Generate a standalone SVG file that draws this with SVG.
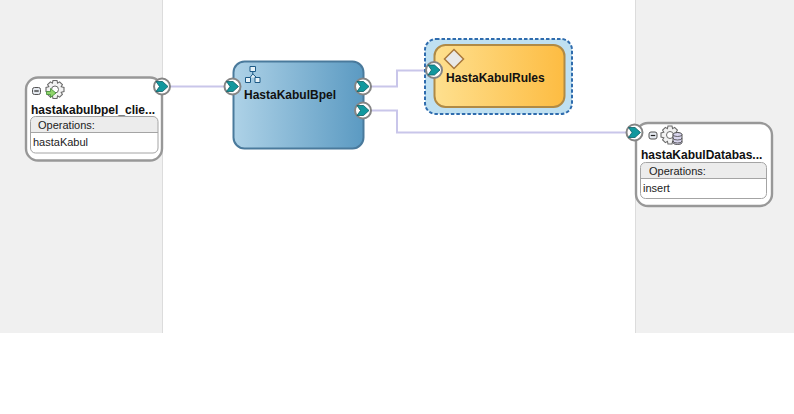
<svg xmlns="http://www.w3.org/2000/svg" xmlns:xlink="http://www.w3.org/1999/xlink" width="794" height="414" viewBox="0 0 794 414">
<style>
text{font-family:"Liberation Sans",Arial,sans-serif;fill:#111}
.t{font-size:12px;font-weight:bold}
.s{font-size:11px;fill:#222}
.card{fill:#fff;stroke:#989898;stroke-width:2.4}
.ops{fill:none;stroke:#a4a4a4;stroke-width:1}
.ophead{fill:#ececec}
.conn{fill:none;stroke:#c9c6ea;stroke-width:2}
.pr{fill:#fff;stroke:#858585;stroke-width:2}
.ch{fill:#12989e;stroke:#0d5e66;stroke-width:.8;stroke-linejoin:round}
.minus{fill:#e4e8ee;stroke:#555;stroke-width:1}
.gear{fill:#f2f2f2;stroke:#6a6a6a;stroke-width:1.1}
.net{fill:#e6f2f8;stroke:#1d5a86;stroke-width:1}
</style>
<defs>
<linearGradient id="blue" x1="0" x2="1" y1="0" y2="0"><stop offset="0" stop-color="#aed2e7"/><stop offset="1" stop-color="#5b9ac2"/></linearGradient>
<linearGradient id="gold" x1="0" x2="1" y1="0" y2="0"><stop offset="0" stop-color="#fee08f"/><stop offset="1" stop-color="#fdbc42"/></linearGradient>
<g id="port"><circle r="8" class="pr"/><path class="ch" d="M-6-5H0.500L6 0L0.500 5H-6L-2.500 0Z"/></g>
<g id="minus"><rect x="-4" y="-3.500" width="8" height="7" rx="2" class="minus"/><path d="M-2.200 0H2.200" stroke="#222" stroke-width="1.200"/></g>
<g id="gearShape"><path class="gear" d="M-2-9H2L2.600-6.400L4.600-7.600L7.400-4.800L6.200-2.800L9-2V2L6.200 2.800L7.400 4.800L4.600 7.600L2.600 6.400L2 9H-2L-2.600 6.400L-4.600 7.600L-7.400 4.800L-6.200 2.800L-9 2V-2L-6.200-2.800L-7.400-4.800L-4.600-7.600L-2.600-6.400Z"/><circle r="3.500" fill="#fff" stroke="#6a6a6a" stroke-width="1"/></g>
</defs>
<rect width="794" height="414" fill="#fff"/>
<rect x="0" y="0" width="162" height="333" fill="#f0f0f0"/>
<rect x="636" y="0" width="158" height="333" fill="#f0f0f0"/>
<path d="M162.500 0V333M635.500 0V333" stroke="#dcdcdc" fill="none"/>
<g id="connectors">
<path class="conn" d="M170 86.500H225"/>
<path class="conn" d="M371 86.500H397V70.500H427"/>
<path class="conn" d="M371 110.500H397V132.500H627"/>
</g>
<g id="hastakabulbpel_client">
<rect x="26" y="77.500" width="136" height="83" rx="12" class="card"/>
<use xlink:href="#minus" x="36.500" y="91"/>
<use xlink:href="#gearShape" x="55" y="89.500"/>
<path d="M46.500 91.500h4v-3l5.500 4.500l-5.500 4.500v-3h-4z" fill="#8fd46a" stroke="#3f8a35" stroke-width=".8"/>
<text class="t" x="31" y="114">hastakabulbpel_clie...</text>
<path class="ophead" d="M31 132.500V122a5 5 0 0 1 5-5H153a5 5 0 0 1 5 5V132.500Z"/>
<rect x="30.500" y="116.500" width="127.500" height="36.500" rx="5" class="ops"/>
<path d="M31 132.500H158" stroke="#a4a4a4"/>
<text class="s" x="38" y="129">Operations:</text>
<text class="s" x="33" y="146">hastaKabul</text>
<use xlink:href="#port" x="162" y="86.500"/>
</g>
<g id="HastaKabulBpel">
<rect x="233.500" y="61.500" width="130" height="87" rx="11" fill="url(#blue)" stroke="#4a7a9c" stroke-width="2"/>
<path class="net" d="M250 66.500h5.500v5h-5.500zM245.500 77.500h5v5h-5zM255 77.500h5v5h-5zM252.800 71.500V74M250 77.500L252.800 74L256.500 77.500"/>
<text class="t" x="244" y="99">HastaKabulBpel</text>
<use xlink:href="#port" x="232.500" y="86.500"/>
<use xlink:href="#port" x="363" y="86.500"/>
<use xlink:href="#port" x="363" y="110.500"/>
</g>
<g id="HastaKabulRules">
<rect x="425" y="39" width="147" height="75" rx="11" fill="#bfe0f1" stroke="#2f6cae" stroke-width="2" stroke-dasharray="3.500 2"/>
<rect x="434.500" y="45" width="130" height="62" rx="11" fill="url(#gold)" stroke="#b08a45" stroke-width="2"/>
<path d="M454 49.500L463.500 59L454 68.500L444.500 59Z" fill="#e8e8e8" stroke="#a9783c" stroke-width="1.500"/>
<text class="t" x="446" y="82">HastaKabulRules</text>
<use xlink:href="#port" x="434" y="70"/>
</g>
<g id="hastaKabulDatabase">
<rect x="636" y="123" width="136" height="83" rx="12" class="card"/>
<use xlink:href="#minus" x="653" y="135.500"/>
<use xlink:href="#gearShape" x="670" y="135"/>
<path d="M673 134.500a4.500 2 0 0 1 9 0v8a4.500 2 0 0 1-9 0z" fill="#d9d6ee" stroke="#444" stroke-width=".9"/>
<path d="M673 134.500a4.500 2 0 0 0 9 0M673 138a4.500 2 0 0 0 9 0M673 141a4.500 2 0 0 0 9 0" fill="none" stroke="#444" stroke-width=".8"/>
<text class="t" x="641" y="159">hastaKabulDatabas...</text>
<path class="ophead" d="M641 178V167.500a4.500 4.500 0 0 1 4.500-4.500H762a4.500 4.500 0 0 1 4.500 4.500V178Z"/>
<rect x="640.500" y="162.500" width="126" height="36" rx="5" class="ops"/>
<path d="M640.500 178.500H766.500" stroke="#a4a4a4"/>
<text class="s" x="649" y="175">Operations:</text>
<text class="s" x="643" y="192">insert</text>
<use xlink:href="#port" x="634.500" y="132.500"/>
</g>
</svg>
